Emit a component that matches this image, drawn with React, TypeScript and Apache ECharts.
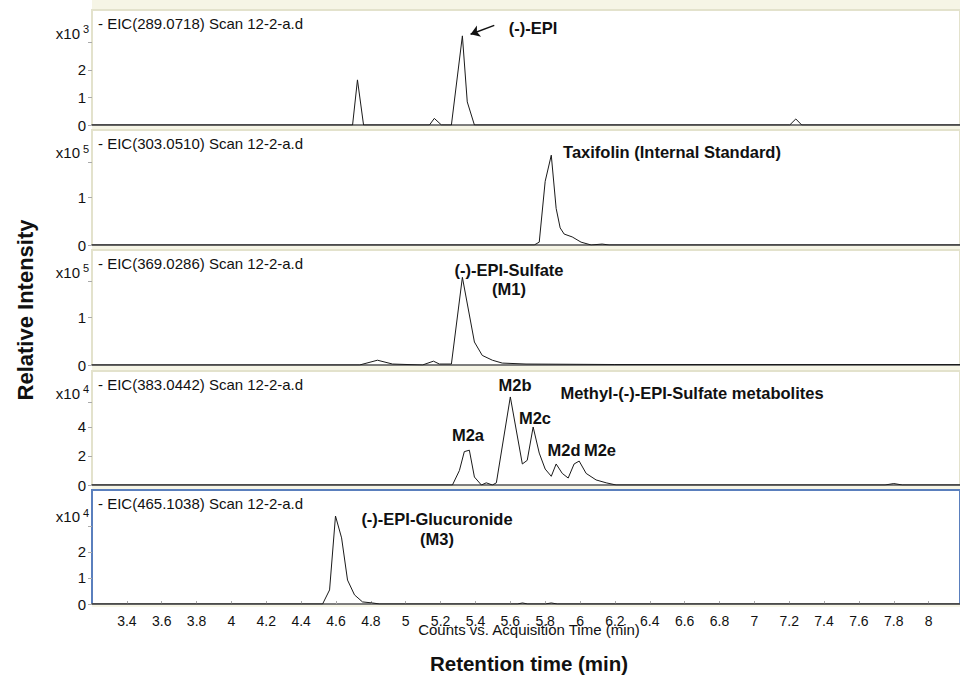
import React, { useEffect, useRef } from "react";
import * as echarts from "echarts";

const FONT = '"Liberation Sans", Arial, Helvetica, sans-serif';

// Retention-time axis (min)
const timeMin = 3.2;
const timeMax = 8.18;
const timeStep = 0.2;

// EIC traces: [retention time (min), intensity in the panel's x10^n units]
const eic289 = [
  [3.2, 0], [4.695, 0], [4.723, 1.64], [4.758, 0], [5.136, 0], [5.164, 0.24], [5.205, 0],
  [5.262, 0], [5.325, 3.24], [5.353, 0.84], [5.394, 0], [7.203, 0], [7.238, 0.22], [7.272, 0], [8.18, 0],
];
const eic303 = [
  [3.2, 0], [5.737, 0], [5.766, 0.06], [5.8, 1.34], [5.835, 1.89], [5.863, 0.77], [5.886, 0.36],
  [5.909, 0.23], [5.955, 0.17], [6.006, 0.06], [6.064, 0], [6.127, 0.02], [6.167, 0], [8.18, 0],
];
const eic369 = [
  [3.2, 0], [4.735, 0], [4.838, 0.1], [4.924, 0.02], [5.096, 0], [5.159, 0.08], [5.193, 0.02],
  [5.262, 0.02], [5.325, 1.83], [5.394, 0.48], [5.439, 0.2], [5.497, 0.1], [5.554, 0.04],
  [5.69, 0.02], [6.2, 0.01], [8.18, 0.01],
];
const eic383 = [
  [3.2, 0], [5.268, 0], [5.308, 1.0], [5.336, 2.3], [5.365, 2.4], [5.394, 0.55], [5.434, 0],
  [5.462, 0.15], [5.497, 0], [5.52, 0.15], [5.6, 6.07], [5.669, 1.45], [5.697, 1.7], [5.731, 4.0],
  [5.766, 2.2], [5.8, 1.1], [5.835, 0.6], [5.863, 1.45], [5.898, 0.8], [5.932, 0.48], [5.966, 1.45],
  [5.995, 1.65], [6.035, 0.8], [6.092, 0.35], [6.15, 0.15], [6.207, 0], [7.75, 0], [7.8, 0.1],
  [7.85, 0], [8.18, 0],
];
const eic465 = [
  [3.2, 0], [4.523, 0], [4.563, 0.54], [4.597, 3.38], [4.632, 2.54], [4.666, 0.92], [4.706, 0.35],
  [4.752, 0.08], [4.809, 0.04], [4.85, 0], [5.64, 0], [5.67, 0.04], [5.7, 0], [5.8, 0], [5.835, 0.04],
  [5.87, 0], [8.18, 0],
];

const traces = [eic289, eic303, eic369, eic383, eic465];
const traceTitles = [
  "- EIC(289.0718) Scan 12-2-a.d",
  "- EIC(303.0510) Scan 12-2-a.d",
  "- EIC(369.0286) Scan 12-2-a.d",
  "- EIC(383.0442) Scan 12-2-a.d",
  "- EIC(465.1038) Scan 12-2-a.d",
];
const exponents = ["3", "5", "5", "4", "4"];
const yMaxes = [4.18, 2.42, 2.4, 7.86, 4.38];
const yLabelValues = [[0, 1, 2], [0, 1], [0, 1], [0, 2, 4], [0, 1, 2]];
const yTickValues = [[0, 1, 2, 3], [0, 1, 1.75], [0, 1, 1.75], [0, 2, 4, 5.7], [0, 1, 2, 3]];

// arrow pointing at the (-)-EPI peak: [from, to] in (time, intensity)
const epiArrow = [[5.508, 3.62], [5.372, 3.3]];

// layout
const gridLeft = 92;
const gridWidth = 870;
const gridTops = [10, 130, 250, 371, 490];
const gridHeights = [115, 115, 115, 114, 114];

const annotations = [
  { text: "(-)-EPI", x: 533, y: 28 },
  { text: "Taxifolin (Internal Standard)", x: 672, y: 152 },
  { text: "(-)-EPI-Sulfate", x: 509, y: 270 },
  { text: "(M1)", x: 509, y: 289 },
  { text: "Methyl-(-)-EPI-Sulfate metabolites", x: 692, y: 393 },
  { text: "M2a", x: 468, y: 435 },
  { text: "M2b", x: 515, y: 385 },
  { text: "M2c", x: 535, y: 418 },
  { text: "M2d", x: 564, y: 450 },
  { text: "M2e", x: 600, y: 450 },
  { text: "(-)-EPI-Glucuronide", x: 437, y: 519 },
  { text: "(M3)", x: 437, y: 539 },
];

export default function App() {
  const ref = useRef<HTMLDivElement>(null);
  useEffect(() => {
    if (!ref.current) return;
    const chart = echarts.init(ref.current, undefined, { renderer: "svg" });
    const fmtTime = (v: number) => String(Math.round(v * 10) / 10);

    const grids = traces.map((_, i) => ({
      left: gridLeft,
      top: gridTops[i],
      width: gridWidth,
      height: gridHeights[i],
      show: true,
      backgroundColor: "#ffffff",
      borderColor: i === 4 ? "#5a7fbd" : "#e3e2cc",
      borderWidth: 2,
    }));

    const xAxes = traces.map((_, i) => ({
      gridIndex: i,
      type: "value",
      min: timeMin,
      max: timeMax,
      interval: timeStep,
      axisLine: { show: true, onZero: false, lineStyle: { color: "#7d7d7d", width: 2 } },
      axisTick: { show: i === 4, inside: true, length: 3, lineStyle: { color: "#aaaaaa" } },
      axisLabel: {
        show: i === 4,
        formatter: fmtTime,
        fontSize: 14,
        color: "#111",
        fontFamily: FONT,
        margin: 10,
        showMinLabel: false,
        showMaxLabel: false,
      },
      splitLine: { show: false },
      name: i === 4 ? "Counts vs. Acquisition Time (min)" : "",
      nameLocation: "middle",
      nameGap: 18,
      nameMoveOverlap: false,
      nameTextStyle: { fontSize: 15, color: "#111", fontFamily: FONT, padding: [0, 0, 0, 6] },
    }));

    const yAxes = traces.map((_, i) => ({
      gridIndex: i,
      type: "value",
      min: 0,
      max: yMaxes[i],
      axisLine: { show: false },
      axisTick: {
        show: true,
        customValues: yTickValues[i],
        length: 4,
        lineStyle: { color: "#aaaaaa" },
      },
      axisLabel: {
        customValues: yLabelValues[i],
        fontSize: 15,
        color: "#111",
        fontFamily: FONT,
        margin: 6,
      },
      splitLine: { show: false },
    }));

    const series = traces.map((data, i) => ({
      type: "line",
      xAxisIndex: i,
      yAxisIndex: i,
      data,
      showSymbol: false,
      silent: true,
      lineStyle: { color: "#1a1a1a", width: 1 },
      ...(i === 0
        ? {
            markLine: {
              silent: true,
              symbol: ["none", "arrow"],
              symbolSize: 9,
              label: { show: false },
              lineStyle: { color: "#111", width: 1.5, type: "solid" },
              data: [[{ coord: epiArrow[0] }, { coord: epiArrow[1] }]],
            },
          }
        : {}),
    }));

    const graphic: any[] = [
      {
        type: "rect",
        z: -100,
        shape: { x: gridLeft, y: 0, width: 960 - gridLeft, height: 607 },
        style: { fill: "#f6f5e6" },
      },
      {
        type: "text",
        x: 25,
        y: 310,
        rotation: Math.PI / 2,
        style: {
          text: "Relative Intensity",
          fontSize: 22,
          fontWeight: "bold",
          fontFamily: FONT,
          fill: "#111",
          align: "center",
          verticalAlign: "middle",
        },
      },
      {
        type: "text",
        x: 529,
        y: 663,
        style: {
          text: "Retention time (min)",
          fontSize: 20.5,
          fontWeight: "bold",
          fontFamily: FONT,
          fill: "#111",
          align: "center",
          verticalAlign: "middle",
        },
      },
    ];

    traces.forEach((_, i) => {
      graphic.push({
        type: "text",
        x: 98,
        y: gridTops[i] + 13,
        style: {
          text: traceTitles[i],
          fontSize: 15,
          fontFamily: FONT,
          fill: "#111",
          align: "left",
          verticalAlign: "middle",
        },
      });
      const ticks = yTickValues[i];
      const top = ticks[ticks.length - 1];
      const ly = gridTops[i] + gridHeights[i] * (1 - top / yMaxes[i]) - 10;
      graphic.push({
        type: "text",
        x: 80,
        y: ly + 1,
        style: {
          text: "x10",
          fontSize: 15,
          fontFamily: FONT,
          fill: "#111",
          align: "right",
          verticalAlign: "middle",
        },
      });
      graphic.push({
        type: "text",
        x: 83,
        y: ly - 3,
        style: {
          text: exponents[i],
          fontSize: 11,
          fontFamily: FONT,
          fill: "#111",
          align: "left",
          verticalAlign: "middle",
        },
      });
    });

    annotations.forEach((a) => {
      graphic.push({
        type: "text",
        x: a.x,
        y: a.y,
        style: {
          text: a.text,
          fontSize: 16.5,
          fontWeight: "bold",
          fontFamily: FONT,
          fill: "#111",
          align: "center",
          verticalAlign: "middle",
        },
      });
    });

    chart.setOption({
      animation: false,
      backgroundColor: "transparent",
      grid: grids,
      xAxis: xAxes,
      yAxis: yAxes,
      series,
      graphic,
    } as any);
    return () => chart.dispose();
  }, []);
  return (
    <div
      ref={ref}
      style={{ position: "fixed", left: 0, top: 0, width: 960, height: 677, background: "#fff" }}
    />
  );
}
